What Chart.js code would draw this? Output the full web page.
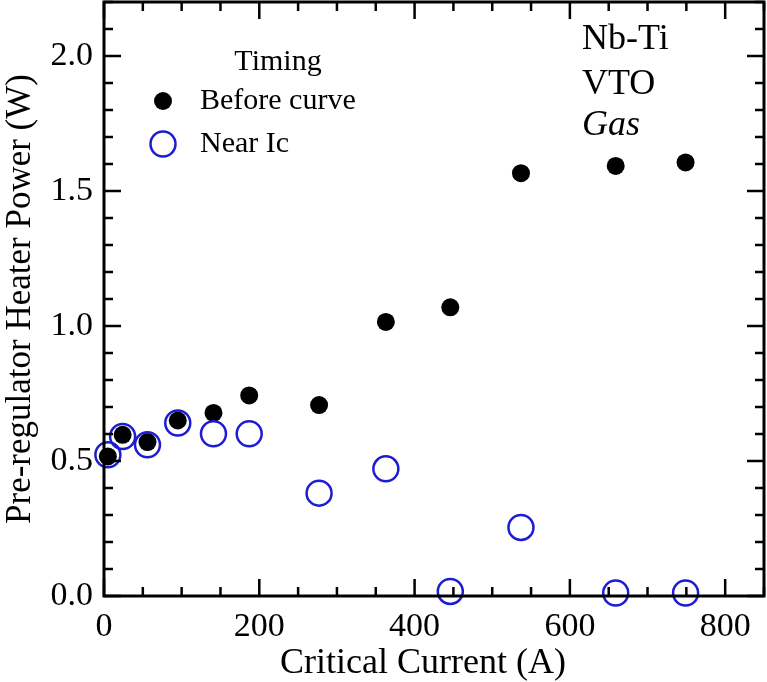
<!DOCTYPE html>
<html>
<head>
<meta charset="utf-8">
<script src="https://cdn.jsdelivr.net/npm/chart.js@4.4.0/dist/chart.umd.min.js"></script>
<style>
html,body{margin:0;padding:0;background:#fff;}
#wrap{width:767px;height:682px;}
</style>
</head>
<body>
<div id="wrap"><canvas id="c" width="767" height="682"></canvas></div>
<script>
// ---- data ----
const criticalCurrent = [5, 24, 56, 95, 141, 187, 277, 363, 446, 537, 659, 749];
const beforeCurve = [0.517, 0.597, 0.570, 0.650, 0.678, 0.743, 0.707, 1.015, 1.069, 1.566, 1.593, 1.606];
const nearIc = [0.523, 0.591, 0.560, 0.641, 0.601, 0.601, 0.381, 0.471, 0.017, 0.254, 0.011, 0.011];
const xTickValues = [0, 200, 400, 600, 800];
const yTickValues = [0.0, 0.5, 1.0, 1.5, 2.0];
const seriesNames = ['Before curve', 'Near Ic'];
const legendTitle = 'Timing';
const noteLines = ['Nb-Ti', 'VTO', 'Gas'];
const xTitle = 'Critical Current (A)';
const yTitle = 'Pre-regulator Heater Power (W)';

const SERIF = '"Liberation Serif", "Times New Roman", serif';
const BLUE = 'rgb(28,28,212)';

const toPts = (ys) => criticalCurrent.map((x, i) => ({x: x, y: ys[i]}));

const decorPlugin = {
  id: 'decor',
  afterDraw(chart) {
    const ctx = chart.ctx;
    const a = chart.chartArea;
    const xs = chart.scales.x, ys = chart.scales.y;
    ctx.save();
    ctx.strokeStyle = '#000';
    ctx.lineWidth = 2.5;
    // inward ticks on all four sides
    for (let v = 0; v <= xs.max + 1e-9; v += 50) {
      const px = xs.getPixelForValue(v);
      const len = (Math.round(v) % 200 === 0) ? 17 : 9;
      ctx.beginPath();
      ctx.moveTo(px, a.bottom); ctx.lineTo(px, a.bottom - len);
      ctx.moveTo(px, a.top); ctx.lineTo(px, a.top + len);
      ctx.stroke();
    }
    for (let k = 0; k <= 22; k++) {
      const v = k / 10;
      const py = ys.getPixelForValue(v);
      const len = (k % 5 === 0) ? 17 : 9;
      ctx.beginPath();
      ctx.moveTo(a.left, py); ctx.lineTo(a.left + len, py);
      ctx.moveTo(a.right, py); ctx.lineTo(a.right - len, py);
      ctx.stroke();
    }
    // frame
    ctx.lineWidth = 3;
    ctx.strokeRect(a.left, a.top, a.right - a.left, a.bottom - a.top);

    // x axis title
    ctx.fillStyle = '#000';
    ctx.font = '36px ' + SERIF;
    ctx.textBaseline = 'alphabetic';
    ctx.textAlign = 'center';
    ctx.fillText(xTitle, 423, 673);

    // legend
    ctx.font = '30px ' + SERIF;
    ctx.fillText(legendTitle, 278, 70);
    ctx.textAlign = 'left';
    ctx.beginPath(); ctx.arc(163, 101, 9, 0, Math.PI * 2); ctx.fill();
    ctx.fillText(seriesNames[0], 200, 109);
    ctx.strokeStyle = BLUE; ctx.lineWidth = 2.5;
    ctx.beginPath(); ctx.arc(163, 144, 12.5, 0, Math.PI * 2); ctx.stroke();
    ctx.fillText(seriesNames[1], 200, 152);

    // note text
    ctx.font = '36px ' + SERIF;
    ctx.fillText(noteLines[0], 582, 49);
    ctx.fillText(noteLines[1], 582, 94);
    ctx.font = 'italic 36px ' + SERIF;
    ctx.fillText(noteLines[2], 582, 135);
    ctx.restore();
  }
};

function zeroPad(s) { s.paddingTop = 0; s.paddingBottom = 0; s.paddingLeft = 0; s.paddingRight = 0; }

new Chart(document.getElementById('c'), {
  type: 'scatter',
  data: {
    datasets: [
      {
        label: seriesNames[0],
        data: toPts(beforeCurve),
        pointRadius: 9,
        pointHoverRadius: 9,
        backgroundColor: '#000',
        borderColor: '#000',
        borderWidth: 0,
        order: 2,
        clip: false
      },
      {
        label: seriesNames[1],
        data: toPts(nearIc),
        pointRadius: 12.5,
        pointHoverRadius: 12.5,
        backgroundColor: 'rgba(0,0,0,0)',
        borderColor: BLUE,
        borderWidth: 2.5,
        order: 1,
        clip: false
      }
    ]
  },
  options: {
    responsive: false,
    animation: false,
    events: [],
    layout: {autoPadding: false, padding: {top: 2, right: 3, left: 0, bottom: 0}},
    plugins: {legend: {display: false}, tooltip: {enabled: false}},
    scales: {
      x: {
        type: 'linear',
        min: 0, max: 850,
        afterFit(s) { s.height = 86; zeroPad(s); },
        afterBuildTicks(s) { s.ticks = xTickValues.map(v => ({value: v})); },
        grid: {display: false, drawTicks: false},
        border: {display: false},
        ticks: {
          color: '#000', padding: 11, maxRotation: 0, autoSkip: false,
          font: {family: SERIF, size: 34},
          callback: (v) => String(v)
        },
        title: {display: false}
      },
      y: {
        type: 'linear',
        min: 0, max: 2.2,
        afterFit(s) { s.width = 104; zeroPad(s); },
        afterBuildTicks(s) { s.ticks = yTickValues.map(v => ({value: v})); },
        grid: {display: false, drawTicks: false},
        border: {display: false},
        ticks: {
          color: '#000', padding: 11, autoSkip: false,
          font: {family: SERIF, size: 34},
          callback: (v) => Number(v).toFixed(1)
        },
        title: {
          display: true, text: yTitle, color: '#000',
          font: {family: SERIF, size: 35}, padding: {top: 0, bottom: 0}
        }
      }
    }
  },
  plugins: [decorPlugin]
});
</script>
</body>
</html>
